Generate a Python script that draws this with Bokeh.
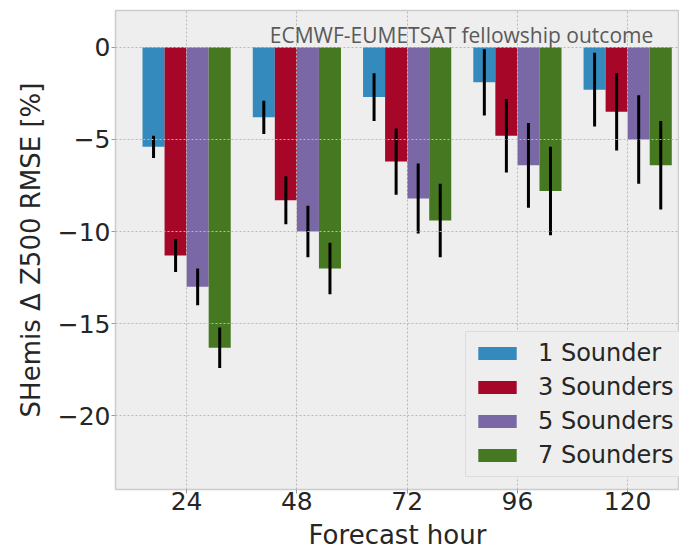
from bokeh.plotting import figure
from bokeh.models import Range1d, FixedTicker, Label
from bokeh.embed import file_html
from bokeh.resources import INLINE

hours = ["24", "48", "72", "96", "120"]
series_names = ["1 Sounder", "3 Sounders", "5 Sounders", "7 Sounders"]

s1 = [-5.4, -3.8, -2.7, -1.9, -2.3]
e1 = [0.6, 0.9, 1.3, 1.8, 2.0]
s3 = [-11.3, -8.3, -6.2, -4.8, -3.5]
e3 = [0.9, 1.3, 1.8, 2.0, 2.1]
s5 = [-13.0, -10.0, -8.2, -6.4, -5.0]
e5 = [1.0, 1.4, 1.9, 2.3, 2.4]
s7 = [-16.3, -12.0, -9.4, -7.8, -6.4]
e7 = [1.1, 1.4, 2.0, 2.4, 2.4]

y_ticks = [-20, -15, -10, -5, 0]

colors = ["#348ABD", "#A60628", "#7A68A6", "#467821"]
offsets = [-0.3, -0.1, 0.1, 0.3]
bar_w = 0.2

p = figure(width=679, height=552, output_backend="svg", toolbar_location=None,
           x_range=Range1d(-0.645, 4.47), y_range=Range1d(-24, 2),
           min_border_left=115, min_border_right=0, min_border_top=10,
           min_border_bottom=0)

p.background_fill_color = "#eeeeee"
p.border_fill_color = "white"
p.outline_line_color = "#cccccc"
p.outline_line_width = 1.5

for vals, errs, name, col, off in zip([s1, s3, s5, s7], [e1, e3, e5, e7],
                                      series_names, colors, offsets):
    xs = [i + off for i in range(len(hours))]
    p.vbar(x=xs, top=vals, bottom=0, width=bar_w, fill_color=col,
           line_color=None, legend_label=name)
    p.segment(x0=xs, x1=xs, y0=[v - e for v, e in zip(vals, errs)],
              y1=[v + e for v, e in zip(vals, errs)], line_color="black",
              line_width=3)

p.xaxis.ticker = FixedTicker(ticks=list(range(len(hours))))
p.xaxis.major_label_overrides = {i: h for i, h in enumerate(hours)}
p.yaxis.ticker = FixedTicker(ticks=y_ticks)
p.yaxis.major_label_overrides = {t: ("\u2212%d" % abs(t) if t < 0 else str(t)) for t in y_ticks}

p.xaxis.axis_label = "Forecast hour"
p.yaxis.axis_label = "SHemis \u0394 Z500 RMSE [%]"

for ax in (p.xaxis, p.yaxis):
    ax.axis_line_color = None
    ax.major_tick_in = 0
    ax.major_tick_out = 4
    ax.major_tick_line_color = "#999999"
    ax.minor_tick_line_color = None
    ax.major_label_text_font = "DejaVu Sans"
    ax.major_label_text_font_size = "25px"
    ax.major_label_text_color = "#262626"
    ax.axis_label_text_font = "DejaVu Sans"
    ax.axis_label_text_font_size = "26px"
    ax.axis_label_text_font_style = "normal"
    ax.axis_label_text_color = "#262626"

p.xaxis.major_label_standoff = -2
p.xaxis.axis_label_standoff = 7
p.yaxis.major_label_standoff = 1
p.yaxis.axis_label_standoff = 9

p.grid.grid_line_color = "#b8b8b8"
p.grid.grid_line_dash = "2 2"
p.grid.grid_line_width = 1
p.grid.level = "guide"
p.xgrid.ticker = FixedTicker(ticks=list(range(len(hours))))
p.ygrid.ticker = FixedTicker(ticks=y_ticks)

p.add_layout(Label(x=4.232, y=0.68, text="ECMWF-EUMETSAT fellowship outcome",
                   text_align="right", text_baseline="alphabetic",
                   text_font="Open Sans", text_font_size="21px",
                   text_color="#5a5a5a"))

lg = p.legend[0]
lg.location = (350, 12)
lg.label_text_font = "DejaVu Sans"
lg.label_text_font_size = "24px"
lg.label_text_color = "#262626"
lg.glyph_width = 48
lg.glyph_height = 16
lg.label_standoff = 17
lg.spacing = 6
lg.padding = 7
lg.margin = 0
lg.background_fill_color = "#eeeeee"
lg.background_fill_alpha = 1.0
lg.border_line_color = "#cccccc"
lg.border_line_width = 1

open("out.html", "w").write(file_html(p, INLINE))
